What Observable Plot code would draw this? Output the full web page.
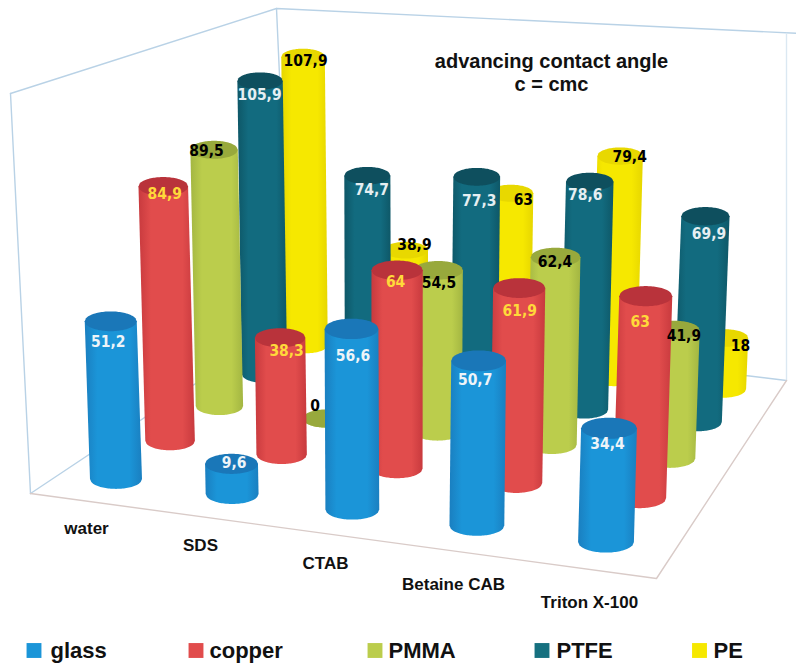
<!DOCTYPE html>
<html>
<head>
<meta charset="utf-8">
<script src="https://cdn.jsdelivr.net/npm/d3@7"></script>
<script src="https://cdn.jsdelivr.net/npm/@observablehq/plot@0.6"></script>
<style>
  html, body { margin: 0; padding: 0; background: #fff; }
  svg { display: block; }
</style>
</head>
<body>
<div id="chart"></div>
<script>
// Advancing contact angle at c = cmc, by surfactant and substrate.
const categories = ["water", "SDS", "CTAB", "Betaine CAB", "Triton X-100"];
const materials = ["glass", "copper", "PMMA", "PTFE", "PE"];

const glass  = [51.2, 9.6, 56.6, 50.7, 34.4];
const copper = [84.9, 38.3, 64, 61.9, 63];
const pmma   = [89.5, 0, 54.5, 62.4, 41.9];
const ptfe   = [105.9, 74.7, 77.3, 78.6, 69.9];
const pe     = [107.9, 38.9, 63, 79.4, 18];
const seriesValues = [glass, copper, pmma, ptfe, pe];

// Palette per material: cylinder edge, cylinder centre, cap, label ink.
const edgeColors   = ["#1a7fc0", "#c83a3e", "#a3b642", "#0e5767", "#e6d600"];
const centerColors = ["#1b95d8", "#e14c4c", "#bbcd4c", "#126b7f", "#f6e800"];
const capColors    = ["#1a77b8", "#b9333b", "#98a93c", "#0e4f5e", "#e8d800"];
const inkColors    = ["#eef4f8", "#ffd93a", "#000000", "#e6eff2", "#000000"];

// Nudges of each value label from the centre of its cylinder cap, [dx, dy] by material then category.
const labelNudges = [
  [[-3, 20], [2, -1], [1, 27], [-4, 19], [-2, 15]],
  [[1, 7], [6, 13], [-2, 11], [0, 22], [-6, 25]],
  [[-8, 1], [-12, -13], [0, 12], [-1, 4], [9, 5]],
  [[-1, 14], [4, 14], [2, 24], [-5, 13], [3, 17]],
  [[2, 4], [8, -6], [12, 6], [9, 0], [15, 7]]
];

// Perspective of the floor: maps (category, material) fractions onto the picture plane.
const floorA = [116, 479], floorB = [606, 542], floorC = [723, 389], floorD = [306, 345];
function floorPoint(u, v) {
  const dx1 = floorB[0] - floorC[0], dx2 = floorD[0] - floorC[0];
  const dy1 = floorB[1] - floorC[1], dy2 = floorD[1] - floorC[1];
  const sx = floorA[0] - floorB[0] + floorC[0] - floorD[0];
  const sy = floorA[1] - floorB[1] + floorC[1] - floorD[1];
  const det = dx1 * dy2 - dx2 * dy1;
  const g = (sx * dy2 - dx2 * sy) / det;
  const h = (dx1 * sy - sx * dy1) / det;
  const a = floorB[0] - floorA[0] + g * floorB[0], b = floorD[0] - floorA[0] + h * floorD[0];
  const d = floorB[1] - floorA[1] + g * floorB[1], e = floorD[1] - floorA[1] + h * floorD[1];
  const w = 1 + g * u + h * v;
  return {
    x: (a * u + b * v + floorA[0]) / w,
    y: (d * u + e * v + floorA[1]) / w,
    scale: 1 / w
  };
}

const unitHeight = 3.08, baseRadius = 26, ellipseRatio = 0.38;
const rowHeightGain = [1, 1.02, 1.02, 1.03, 1.035];
const vanishX = 390, vanishDepth = 8200;

const arcSteps = d3.range(0, 41).map((i) => i / 40);

// One record per cylinder, painted from the far row to the near row.
const cylinders = [];
materials.forEach((material, s) => {
  categories.forEach((category, c) => {
    const value = seriesValues[s][c];
    const base = floorPoint(c / 4, s / 4);
    const lift = value * unitHeight * rowHeightGain[s] * base.scale;
    const rx = baseRadius * base.scale;
    cylinders.push({
      s, c, material, category, value, rx, ry: rx * ellipseRatio,
      bx: base.x, by: base.y,
      tx: base.x + (base.x - vanishX) * lift / vanishDepth,
      ty: base.y - lift
    });
  });
});
cylinders.sort((p, q) => q.s - p.s || p.c - q.c);

const bodyMark = (k) => Plot.area(arcSteps, {
  x1: (t) => k.bx + k.rx * (2 * t - 1),
  y1: (t) => k.by + k.ry * Math.sqrt(1 - (2 * t - 1) ** 2),
  x2: (t) => k.tx + k.rx * (2 * t - 1),
  y2: () => k.ty,
  fill: `url(#body-${k.s})`
});
const capMark = (k) => Plot.area(arcSteps, {
  x1: (t) => k.tx + k.rx * (2 * t - 1),
  y1: (t) => k.ty - k.ry * Math.sqrt(1 - (2 * t - 1) ** 2),
  y2: (t) => k.ty + k.ry * Math.sqrt(1 - (2 * t - 1) ** 2),
  fill: capColors[k.s]
});

// Gradients shared by the cylinder bodies of each material.
const gradients = () => {
  const defs = d3.create("svg:defs");
  materials.forEach((_, s) => {
    const g = defs.append("linearGradient").attr("id", `body-${s}`);
    [[0, edgeColors[s]], [0.22, centerColors[s]], [0.78, centerColors[s]], [1, edgeColors[s]]]
      .forEach(([o, col]) => g.append("stop").attr("offset", o).attr("stop-color", col));
  });
  return defs.node();
};

// Box of the chart: back edges in pale blue, front floor edges in pale rose.
const boxBack = [[[10, 93], [276, 8], [800, 33]], [[10, 93], [30, 493]], [[276, 8], [290, 320]],
                 [[30, 493], [290, 320], [786, 380]]];
const boxSide = [[786, 33], [786, 380]];
const boxFront = [[30, 493], [656, 578], [786, 380]];

const labelData = cylinders.map((k) => ({
  x: k.tx + labelNudges[k.s][k.c][0],
  y: k.ty + labelNudges[k.s][k.c][1],
  text: String(k.value).replace(".", ","),
  ink: inkColors[k.s]
}));

const categoryLabelX = [86, 200, 325, 453, 589];
const categoryLabelY = [528, 545, 563, 584, 602];
const legendSwatchX = [33.5, 195.5, 374.5, 541.5, 699];
const legendTextX = [50, 209, 388, 556, 713];
const legendColors = ["#1b95d8", "#e14c4c", "#bbcd4c", "#16707f", "#f6e800"];

const sansBold = "'Liberation Sans', Arial, sans-serif";

const chart = Plot.plot({
  width: 796,
  height: 663,
  margin: 0,
  x: {domain: [0, 796], range: [0, 796], axis: null},
  y: {domain: [0, 663], range: [0, 663], axis: null},
  marks: [
    gradients,
    ...boxBack.map((pts) => Plot.line(pts, {x: "0", y: "1", stroke: "#b9d2e6", strokeWidth: 1.4})),
    Plot.line(boxSide, {x: "0", y: "1", stroke: "#dbe8f2", strokeWidth: 1.4}),
    Plot.line(boxFront, {x: "0", y: "1", stroke: "#d9cbc8", strokeWidth: 1.4}),
    ...cylinders.flatMap((k) => [bodyMark(k), capMark(k)]),
    Plot.text(labelData, {
      x: "x", y: "y", text: "text", fill: "ink",
      fontFamily: "'DejaVu Sans Condensed', 'DejaVu Sans', sans-serif", fontWeight: 700, fontSize: 15.5
    }),
    Plot.text(categories, {
      x: (_, i) => categoryLabelX[i], y: (_, i) => categoryLabelY[i], text: (d) => d,
      fontFamily: sansBold, fontWeight: 700, fontSize: 17, fill: "#111"
    }),
    Plot.text(["advancing contact angle", "c = cmc"], {
      x: () => 551, y: (_, i) => [61, 84][i], text: (d) => d,
      fontFamily: sansBold, fontWeight: 700, fontSize: 20, fill: "#111"
    }),
    Plot.dot(materials, {
      x: (_, i) => legendSwatchX[i], y: () => 650, symbol: "square", r: 8.4,
      fill: (_, i) => legendColors[i]
    }),
    Plot.text(materials, {
      x: (_, i) => legendTextX[i], y: () => 650, text: (d) => d, textAnchor: "start",
      fontFamily: sansBold, fontWeight: 700, fontSize: 22, fill: "#111"
    })
  ]
});
document.getElementById("chart").append(chart);
</script>
</body>
</html>
